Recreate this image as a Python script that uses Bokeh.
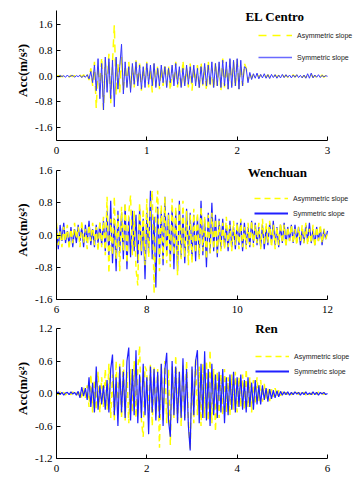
import numpy as np
from bokeh.plotting import figure
from bokeh.layouts import column
from bokeh.models import Range1d, FixedTicker, PrintfTickFormatter, Legend, LegendItem, Label
from bokeh.embed import file_html
from bokeh.resources import INLINE

# ---------------- data ----------------
# EL Centro (t = 0 .. 3 s, step 0.02 s)
el_t0, el_dt = 0.0, 0.02
el_asym = [0.00, 0.02, -0.02, 0.01, -0.03, 0.02, 0.00, -0.02, 0.03, -0.01,
           0.02, -0.03, 0.01, 0.04, -0.02, 0.05, -0.04, 0.08,
           -0.12, 0.25, -0.30, 0.45,
           -1.00, 0.35, -0.40, 0.60, -1.05, 0.50, -0.35, 0.70, -0.85, 0.45,
           1.60, -0.60, 0.40, -0.50, 0.60, -0.45,
           0.35, -0.30, 0.45, -0.40, 0.30, -0.35, 0.50, -0.25, 0.40, -0.45,
           0.30, -0.20, 0.45, -0.35, 0.25, -0.50, 0.40, -0.30, 0.35, -0.40,
           0.25, -0.30,
           0.40, -0.30, 0.35, -0.45, 0.30, -0.25, 0.45, -0.35, 0.20, -0.40,
           0.50, -0.30, 0.25, -0.35, 0.40, -0.45, 0.30, -0.20, 0.35, -0.40,
           0.45, -0.30, 0.30, -0.45, 0.50, -0.35, 0.25, -0.40, 0.45, -0.30,
           0.40, -0.45, 0.55, -0.35, 0.30, -0.40, 0.50, -0.30, 0.45, -0.35,
           0.55, -0.40, 0.35, -0.30, 0.40,
           0.25, -0.15, 0.10, -0.06, 0.05, -0.04, 0.06, -0.03, 0.04, -0.05,
           0.03, -0.02, 0.05, -0.04, 0.02, -0.03, 0.04, -0.02, 0.03, -0.05,
           0.04, -0.02, 0.03, -0.03, 0.02, -0.04, 0.05, -0.02, 0.03, -0.02,
           0.04, -0.03, 0.02, -0.04, 0.03, -0.02, 0.05, -0.03, 0.02, -0.04,
           0.03, -0.02, 0.04, -0.03, 0.02, 0.00]
el_sym = [0.00, -0.02, 0.03, -0.01, 0.02, -0.03, 0.04, -0.02, 0.01, 0.03,
          -0.03, 0.02, -0.01, 0.03, -0.04, 0.02, -0.03, 0.05,
          -0.08, 0.15, -0.20, 0.35,
          -0.45, 0.55, -0.70, 0.40, -1.05, 0.60, -0.50, 0.55, -0.70, 0.50,
          -0.95, 0.60, -0.40, 0.30, 1.00, -0.55,
          0.45, -0.35, 0.30, -0.50, 0.40, -0.25, 0.45, -0.30, 0.35, -0.40,
          0.30, -0.35, 0.40, -0.25, 0.35, -0.30, 0.40, -0.35, 0.25, -0.30,
          0.35, -0.20,
          0.30, -0.35, 0.25, -0.20, 0.35, -0.30, 0.40, -0.25, 0.30, -0.35,
          0.25, -0.30, 0.35, -0.25, 0.30, -0.20, 0.35, -0.30, 0.25, -0.35,
          0.30, -0.25, 0.40, -0.30, 0.35, -0.25, 0.45, -0.35, 0.40, -0.30,
          0.45, -0.35, 0.50, -0.30, 0.45, -0.40, 0.55, -0.35, 0.50, -0.30,
          0.55, -0.40, 0.50, -0.30, 0.30,
          0.25, -0.20, 0.12, -0.10, 0.08, -0.06, 0.10, -0.08, 0.06, -0.05,
          0.08, -0.06, 0.05, -0.07, 0.06, -0.04, 0.05, -0.06, 0.04, -0.05,
          0.06, -0.04, 0.05, -0.03, 0.04, -0.05, 0.04, -0.03, 0.05, -0.04,
          0.03, -0.05, 0.04, -0.06, 0.08, -0.06, 0.10, -0.05, 0.04, -0.03,
          0.05, -0.04, 0.03, -0.02, 0.02, 0.00]

# Wenchuan (t = 6 .. 12 s, step 0.04 s)
wc_t0, wc_dt = 6.0, 0.04
wc_asym = [0.30, -0.25, 0.10, -0.30, 0.20, -0.15, 0.25, -0.35, 0.15, -0.20,
           0.30, -0.10, 0.20, -0.30, 0.35, -0.20, 0.15, -0.35, 0.25, -0.15,
           0.30, -0.25, 0.20, -0.40, 0.35,
           -0.30, 0.45, -0.50, 0.95,
           -0.95, 0.40, -0.50, 0.95, -0.60, 0.50, -0.90, 0.70, -0.40, 0.80,
           -0.70, 0.55, 0.98, -0.50, 0.60, -0.85, -1.25, 0.80, -0.40, 0.65,
           -0.75, 0.90, -0.55, 0.70, 1.10, -1.45, 0.60, 1.10, -0.90, 0.75,
           -0.60, 0.95, -0.70, 0.50, -0.80, 0.90, -0.50, 0.70, -1.00, 0.80,
           -0.60, 0.85, -0.55, 0.60, -0.75, 0.50, -0.70, 0.65, -0.45, 0.55,
           -0.60, 0.70, -0.40, 0.45, -0.60, 0.50, -0.45, 0.55, -0.35, 0.40,
           -0.45, 0.35,
           -0.40, 0.30, -0.35, 0.45, -0.30, 0.25, -0.40, 0.35, -0.25, 0.30,
           -0.35, 0.40, -0.30, 0.20, -0.35, 0.30, -0.25, 0.35, -0.30, 0.25,
           -0.20, 0.30, -0.35, 0.40, -0.25, 0.30, -0.20, 0.35, -0.30, 0.25,
           -0.35, 0.20, -0.25, 0.30, -0.20, 0.25, -0.30, 0.20, -0.15, 0.25,
           -0.20, 0.15, -0.25, 0.20, -0.15, 0.25, -0.20, 0.30, -0.25, 0.15,
           -0.20, 0.25, -0.30, 0.20, -0.15, 0.25, -0.20, 0.15, -0.10, 0.05]
wc_sym = [0.20, -0.35, 0.25, -0.15, 0.30, -0.20, 0.10, -0.25, 0.20, -0.30,
          0.15, -0.20, 0.25, -0.15, 0.20, -0.30, 0.25, -0.20, 0.35, -0.25,
          0.15, -0.30, 0.25, -0.20, 0.30,
          -0.25, 0.35, -0.40, 0.60,
          -0.50, 0.85, -0.70, 0.40, -0.90, 0.60, -0.45, 0.55, -0.60, 0.75,
          -0.85, 0.45, -0.55, 0.60, -0.40, 0.50, -0.70, 0.65, -0.50, 0.40,
          -1.10, 0.55, -0.45, 1.10, -0.60, 0.45, -1.30, 0.70, -0.55, 0.60,
          -0.75, 0.95, -0.50, 0.55, -0.65, 0.70, -0.85, 0.60, -0.90, 0.85,
          -0.55, 0.50, -0.70, 0.65, -0.45, 0.55, -0.60, 0.50, -0.65, 0.45,
          -0.55, 0.85, -0.50, 0.40, -0.80, 0.55, -0.45, 0.80, -0.40, 0.50,
          -0.55, 0.40,
          -0.35, 0.40, -0.30, 0.25, -0.40, 0.35, -0.30, 0.20, -0.35, 0.30,
          -0.25, 0.35, -0.40, 0.30, -0.25, 0.20, -0.30, 0.35, -0.20, 0.30,
          -0.25, 0.20, -0.30, 0.25, -0.35, 0.20, -0.25, 0.30, -0.20, 0.35,
          -0.25, 0.20, -0.30, 0.25, -0.20, 0.30, -0.25, 0.20, -0.15, 0.25,
          -0.20, 0.25, -0.15, 0.20, -0.25, 0.15, -0.20, 0.25, -0.15, 0.30,
          -0.20, 0.15, -0.25, 0.20, -0.15, 0.20, -0.25, 0.15, -0.10, 0.10]

# Ren (t = 0 .. 6 s, step 0.04 s)
rn_t0, rn_dt = 0.0, 0.04
rn_asym = [0.00, -0.02, 0.03, -0.01, 0.02, -0.03, 0.02, 0.01, -0.02, 0.03,
           -0.02, 0.01, -0.03,
           0.06, -0.10, 0.12, -0.08, 0.15,
           -0.25, 0.35, -0.35, 0.25, -0.30, 0.40, -0.35,
           0.30, -0.25, 0.45, -0.30, 0.55,
           -0.45, 0.35, -0.50, 0.60, -0.40, 0.55, -0.45, 0.65, -0.50, 0.40,
           -0.55, 0.45, -0.35, 0.60, -0.45, 0.45, 0.88, -0.50, -0.80, 0.50,
           0.40, -0.45, 0.55, -0.60, 0.50, -0.40, 0.45, -1.00, 0.55, -0.50,
           0.60, -0.55, 0.45, -0.95, 0.50, -0.45, 0.70, -0.50, 0.40, -0.60,
           0.55, -0.45, 0.60, -0.50, -1.05, 0.45, -0.55, 0.65, -0.40, 0.50,
           -0.60, 0.55, -0.45, 0.60, -0.50, 0.80, -0.55, 0.45, -0.70, 0.40,
           -0.45, 0.35, -0.40, 0.45, -0.35, 0.30, -0.40, 0.35, -0.30, 0.40,
           -0.35, 0.30, -0.25, 0.35, -0.30, 0.45, -0.25, 0.30, -0.35, 0.25,
           -0.20, 0.30, -0.15,
           0.25, -0.15, 0.18, -0.12, 0.10, -0.14, 0.08, -0.06, 0.10, -0.05,
           0.06, -0.04, 0.03,
           -0.03, 0.02, -0.02, 0.03, -0.02, 0.01, -0.03, 0.02, -0.02, 0.03,
           -0.01, 0.02, -0.03, 0.02, -0.02, 0.01, -0.03, 0.02, -0.02, 0.03,
           -0.02, 0.01, -0.02, 0.02, 0.00]
rn_sym = [0.00, 0.03, -0.02, 0.02, -0.03, 0.01, 0.02, -0.02, 0.03, -0.01,
          0.02, -0.03, 0.04,
          -0.08, 0.12, -0.05, 0.10, -0.12,
          0.30, -0.25, 0.20, -0.35, 0.50, -0.30, 0.15,
          -0.20, 0.15, -0.30, 0.25, -0.35,
          0.45, 0.72, -0.40, 0.30, -0.60, 0.50, -0.35, 0.40, -0.45, 0.60,
          0.85, -0.50, 0.45, -0.40, 0.80, -0.55, 0.35, -0.45, 0.55, -0.40,
          0.30, -0.75, 0.50, -0.35, 0.45, -0.50, 0.40, -0.45, 0.55, -0.60,
          0.45, 0.75, -0.50, -0.80, 0.60, -0.40, 0.50, -0.55, 0.40, -0.45,
          0.65, -0.50, 0.45, -0.60, -1.05, 0.50, -0.40, 0.60, 0.80, -0.55,
          0.55, -0.45, 0.78, -0.50, 0.45, -0.60, 0.55, -0.40, 0.35, -0.45,
          0.40, -0.35, 0.45, -0.55, 0.30, -0.40, 0.35, -0.30, 0.40, -0.35,
          0.30, -0.25, 0.35, -0.30, 0.25, -0.35, 0.30, -0.25, 0.20, -0.30,
          0.25, -0.20, 0.15,
          -0.20, 0.15, -0.12, 0.10, -0.15, 0.08, -0.10, 0.06, -0.08, 0.05,
          -0.06, 0.04, -0.03,
          0.03, -0.02, 0.03, -0.03, 0.02, -0.02, 0.03, -0.01, 0.02, -0.03,
          0.02, -0.02, 0.03, -0.02, 0.01, -0.02, 0.03, -0.02, 0.02, -0.03,
          0.02, -0.01, 0.02, -0.02, 0.00]

series_names = ["Asymmetric slope", "Symmetric slope"]
titles = ["EL Centro", "Wenchuan", "Ren"]
el_xticks = [0, 1, 2, 3]
wc_xticks = [6, 8, 10, 12]
rn_xticks = [0, 2, 4, 6]
el_yticks = [-1.6, -0.8, 0.0, 0.8, 1.6]
wc_yticks = [-1.6, -0.8, 0.0, 0.8, 1.6]
rn_yticks = [-1.2, -0.6, 0.0, 0.6, 1.2]

YEL = "#FFFF00"
BLU = "#2020FF"
SERIF = "Liberation Serif"
SANS = "Liberation Sans"

AXIS_W = 271      # pixel length of the x axis
FRAME_W = 300     # drawing area (wider, so legend text fits to the right)
PAD_TOP = 10      # space above the y axis top inside the drawing area


def panel(t0, dt, asym, sym, xb, yb, xticks, yticks, title, title_xy,
          axis_h, bottom, leg_loc, leg_spacing, leg_font, dash, blue_on_top,
          sym_color, sym_width, leg_sym_color, leg_sym_width):
    t_a = t0 + dt * np.arange(len(asym))
    t_s = t0 + dt * np.arange(len(sym))
    x_end = xb[0] + (xb[1] - xb[0]) * FRAME_W / AXIS_W
    y_end = yb[1] + (yb[1] - yb[0]) * PAD_TOP / axis_h
    p = figure(frame_width=FRAME_W, frame_height=axis_h + PAD_TOP,
               output_backend="svg", toolbar_location=None,
               x_range=Range1d(xb[0], x_end), y_range=Range1d(yb[0], y_end),
               min_border_left=56, min_border_right=0,
               min_border_top=0, min_border_bottom=bottom)
    p.outline_line_color = None
    p.grid.visible = False
    p.background_fill_color = "white"
    p.border_fill_color = "white"

    def draw_asym():
        p.line(t_a, asym, line_color=YEL, line_width=1.5, line_dash=dash)

    def draw_sym():
        p.line(t_s, sym, line_color=sym_color, line_width=sym_width)

    if blue_on_top:
        draw_asym(); draw_sym()
    else:
        draw_sym(); draw_asym()

    # legend-only glyphs (a single undefined point: nothing is drawn in the plot)
    la = p.line([np.nan], [np.nan], line_color=YEL, line_width=1.5, line_dash=dash)
    ls = p.line([np.nan], [np.nan], line_color=leg_sym_color, line_width=leg_sym_width)

    p.xaxis[0].bounds = xb
    p.yaxis[0].bounds = yb
    for ax in (p.xaxis[0], p.yaxis[0]):
        ax.major_tick_in = 4
        ax.major_tick_out = 0
        ax.minor_tick_in = 0
        ax.minor_tick_out = 0
        ax.axis_line_color = "black"
        ax.major_tick_line_color = "black"
        ax.major_label_text_font = SERIF
        ax.major_label_text_font_size = "11px"
        ax.major_label_text_color = "black"
        ax.major_label_standoff = 4
    p.xaxis[0].major_label_standoff = 6
    p.xaxis[0].ticker = FixedTicker(ticks=xticks)
    p.yaxis[0].ticker = FixedTicker(ticks=yticks)
    p.yaxis[0].formatter = PrintfTickFormatter(format="%.1f")
    p.yaxis[0].axis_label = "Acc(m/s²)"
    p.yaxis[0].axis_label_text_font = SERIF
    p.yaxis[0].axis_label_text_font_style = "bold"
    p.yaxis[0].axis_label_text_font_size = "13px"
    p.yaxis[0].axis_label_text_color = "black"
    p.yaxis[0].axis_label_standoff = 2

    p.add_layout(Label(x=title_xy[0], y=title_xy[1], text=title,
                       text_font=SERIF, text_font_style="bold", text_font_size="13px",
                       text_align="center", text_baseline="middle", text_color="black"))

    leg = Legend(items=[LegendItem(label=series_names[0], renderers=[la]),
                        LegendItem(label=series_names[1], renderers=[ls])],
                 location=leg_loc, padding=0, margin=0, spacing=leg_spacing,
                 glyph_width=34, glyph_height=12, label_height=12,
                 label_standoff=5, label_text_font=SANS,
                 label_text_font_size=leg_font, label_text_color="#222222",
                 border_line_color=None, background_fill_alpha=0)
    p.add_layout(leg, "center")
    return p


p1 = panel(el_t0, el_dt, el_asym, el_sym, (0, 3), (-2.0, 2.05), el_xticks, el_yticks,
           titles[0], (2.42, 1.87), 130, 20, (202, 77), 10, "7px", "8 6", True,
           "#3535FF", 1.0, "#6a6aff", 1.5)
p2 = panel(wc_t0, wc_dt, wc_asym, wc_sym, (6, 12), (-1.6, 1.6), wc_xticks, wc_yticks,
           titles[1], (10.89, 1.55), 129, 19, (198, 80), 3, "7px", "6 4", False,
           BLU, 1.2, BLU, 2.0)
p3 = panel(rn_t0, rn_dt, rn_asym, rn_sym, (0, 6), (-1.2, 1.2), rn_xticks, rn_yticks,
           titles[2], (4.65, 1.2), 130, 20, (199, 81), 3, "7px", "6 4", True,
           BLU, 1.2, BLU, 2.0)

layout = column(p1, p2, p3, spacing=0)
open("out.html", "w").write(file_html(layout, INLINE))
